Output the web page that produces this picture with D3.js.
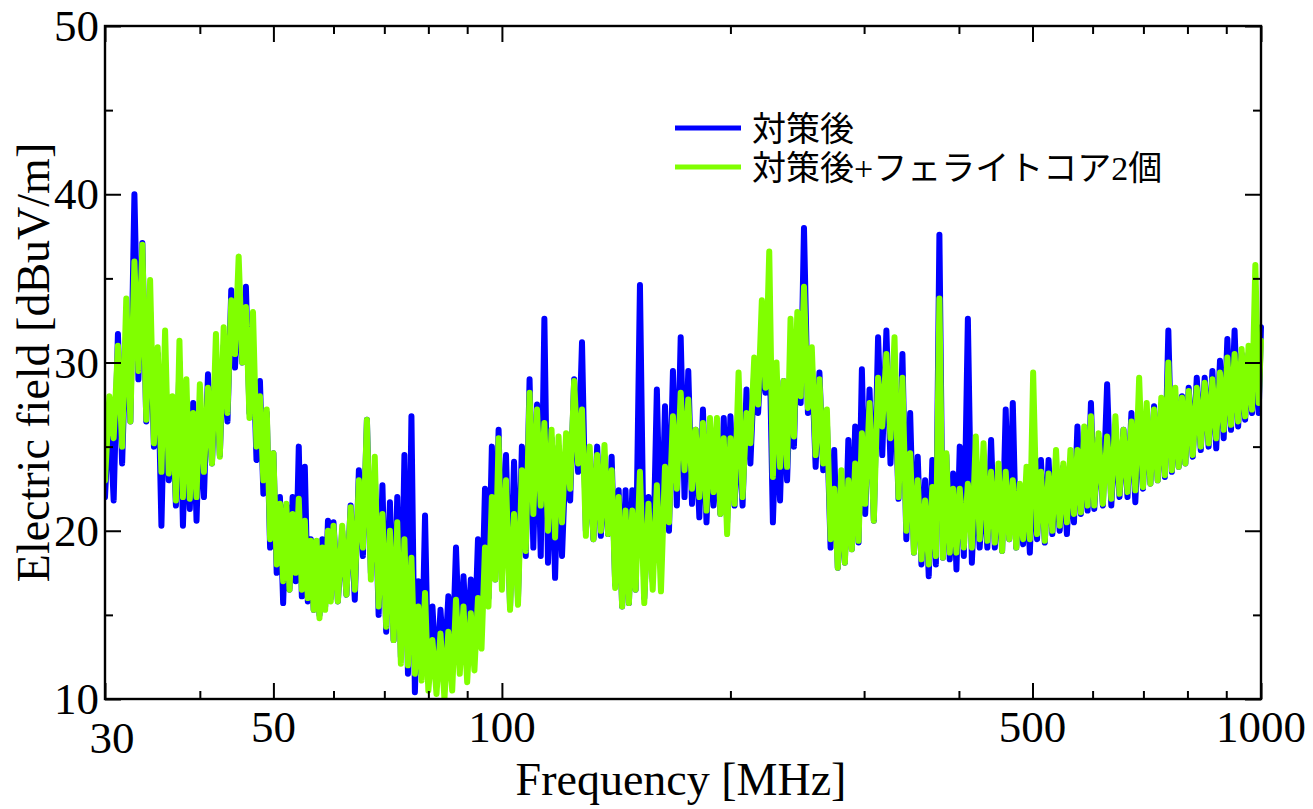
<!DOCTYPE html>
<html>
<head>
<meta charset="utf-8">
<script src="https://cdn.jsdelivr.net/npm/d3@7/dist/d3.min.js"></script>
<style>
  html, body { margin: 0; padding: 0; background: #fff; }
  svg { display: block; }
  text { font-family: "Liberation Serif", "Times New Roman", "Noto Sans CJK JP", serif; fill: #000; }
</style>
</head>
<body>
<svg id="chart" width="1313" height="809"></svg>
<script>
// ---------- DATA ----------
const freqMHz = [
  30,30.4,30.8,31.2,31.6,32,32.4,32.8,33.2,33.6,34,34.4,34.8,35.2,35.6,36,36.4,36.8,37.2,37.6,38,38.4,38.8,39.2,39.6,40,
  40.5,41,41.5,42,42.5,43,43.5,44,44.5,45,45.5,46,46.5,47,47.5,48,48.5,49,49.5,50,
  50.5,51,51.5,52,52.5,53,53.5,54,54.5,55,55.5,56,56.5,57,57.5,58,58.5,59,59.5,60,
  60.8,61.6,62.4,63.2,64,64.8,65.6,66.4,67.2,68,68.8,69.6,70.4,71.2,72,72.8,73.6,74.4,75.2,76,76.8,77.6,78.4,79.2,80,
  81,82,83,84,85,86,87,88,89,90,91,92,93,94,95,96,97,98,99,100,
  101.25,102.5,103.75,105,106.25,107.5,108.75,110,111.25,112.5,113.75,115,116.25,117.5,118.75,120,
  121.5,123,124.5,126,127.5,129,130.5,132,133.5,135,136.5,138,139.5,141,142.5,144,145.5,147,148.5,150,
  152,154,156,158,160,162,164,166,168,170,172,174,176,178,180,182,184,186,188,190,192,194,196,198,200,
  202.5,205,207.5,210,212.5,215,217.5,220,222.5,225,227.5,230,232.5,235,237.5,240,242.5,245,247.5,250,
  253,256,259,262,265,268,271,274,277,280,283,286,289,292,295,298,301,
  305,309,313,317,321,325,329,333,337,341,345,349,353,357,361,365,369,373,377,381,385,389,393,397,401,
  406,411,416,421,426,431,436,441,446,451,456,461,466,471,476,481,486,491,496,501,
  507,513,519,525,531,537,543,549,555,561,567,573,579,585,591,597,603,
  611,619,627,635,643,651,659,667,675,683,691,699,707,715,723,731,739,747,755,763,771,779,787,795,803,
  813,823,833,843,853,863,873,883,893,903,913,923,933,943,953,963,973,983,993,1000
];

// 対策後 (blue)
const afterDb = [
  22.0,27.5,21.8,31.7,24.0,32,26.5,40.0,29,37.1,26.5,33,25.0,30.5,20.3,30,23.0,27,21.5,30,20.3,27,21.3,27.6,20.6,27,
  22,29.3,24.0,30,24.5,31,26.5,34.3,29.7,34,30,34.5,27,31,24.2,28.9,22.2,27,19.0,24.6,
  17.5,22,15.7,21.5,16.5,22,17.0,25.0,16.1,23.8,15.8,19.5,15.3,19,15.0,19.5,15.5,20.6,16,20.5,
  15.8,20,16.2,21.5,15.9,23.6,18.5,26.6,17.5,23.5,15,22.7,14.0,21.7,13.5,22,12.5,24.5,11.5,26.8,10.4,17,11.5,20.9,11,
  15.5,11.0,15.3,11.7,16.1,12,19.0,12.5,17.3,13.0,17.1,13.0,19.5,14.5,22.5,16,25.0,17.1,26.0,17.5,
  24.5,15.5,24.1,16.0,25,18.5,29.0,19,27.5,18.5,32.6,18.1,25.5,17.2,25,18.5,
  25,21.8,29.0,23.5,31.2,20.0,24.5,19.5,25.0,19.7,24,19.8,24.4,16.8,22.4,15.5,22.4,15.7,22.4,16.5,
  34.6,16.0,22,17,28.4,18,27.4,20,29.5,21.5,31.5,22.0,29.5,21.6,26,20.8,27.2,20.5,26,21.5,25.5,21,26.7,20.5,26.8,
  21.5,26.5,21.5,28.4,24,29.5,27,31,28.2,32,20.5,27,21.8,28.9,23.0,29,25.0,32,27.6,38.0,
  27,30,23.8,29.4,23.6,26.5,19.0,24.8,17.8,22.5,18.1,25.4,18.9,26.2,19.3,29.6,21.0,
  28.4,20.6,31.5,24.5,31.9,24.0,29.5,21.9,30.5,19.5,27.0,18.7,24.4,18.0,23,17.3,24.2,18.0,37.6,18.4,24.5,18.3,23.4,17.7,25.0,
  18.5,32.6,18.1,23.5,19.0,23,19.0,25.4,19,23,18.8,27.2,19.5,27.6,19.0,22.5,19.2,23,18.7,24,
  19.5,24.2,19.3,24.2,19.8,23.5,20.0,23.8,19.8,24,20.5,26.2,21.0,25.2,21.2,27.6,21.3,
  25.5,21.5,28.7,21.5,26,22.0,26.0,22.0,27.0,21.7,27,22.5,27,22.8,27.4,23.0,27.5,23.2,31.9,23.5,28,23.8,28,24.0,28.5,
  24.4,29.1,24.8,29.1,25.0,29.5,24.9,30.1,25.5,31.4,26.0,31.9,26.2,30.5,26.6,30.5,27.0,31,27.0,32.1
];

// 対策後+フェライトコア2個 (green)
const ferriteDb = [
  23.0,28.0,25.5,31.0,25.0,33.8,26.5,36.0,29.5,37.0,26.6,34.9,25.2,30.9,23.5,31.9,23.4,28.0,21.8,31.3,22.0,29.0,21.9,27.0,22,28.7,
  23.5,28.5,24.0,31.7,24.4,32.1,27.0,33.7,30.5,36.3,30,33.3,26.7,33.0,25.0,28,23.0,27.2,19.5,24.6,
  18.0,21.6,17.0,21.6,16.5,21.0,17.5,21.9,16.5,20.6,16.0,19.4,15.3,19.4,14.8,19.0,15.3,20.0,15.8,20.3,
  15.8,20.3,16.2,21.4,16.5,23.0,19,26.6,17.1,24.4,15.5,21,14.3,20,13.5,20.5,12.1,19.5,12.0,18.4,11.5,15.5,11.1,16.3,10.5,
  13.5,10.3,13.9,10.0,14,10.5,15.9,11.5,15.5,11.0,15.1,11.7,16.0,13.0,19.0,15.5,22.0,17.1,25.5,16.5,
  23.0,15.3,21.0,15.6,23.6,18.8,28.2,21.0,27.2,21.5,26.4,20.0,26.0,19.6,25.6,20.5,
  25.8,22.5,28.9,24.0,27.2,19.7,25.0,19.5,24.5,20.0,25.1,19.8,23.6,16.6,22.0,15.5,21.2,15.7,21.2,16.5,
  23.5,15.7,21.6,16.5,22.7,16.4,23.8,20.5,26.8,22.5,28.2,23.6,27.8,22.5,26.0,22.0,26.4,21.2,26.7,22.3,26.7,21.0,25.5,19.8,25.5,
  21.6,29.4,22.0,27.0,25.2,30.3,27.5,33.7,28.5,36.6,23.2,30,23.8,28.9,23.8,32.6,25.6,33.0,28.0,34.5,
  27.3,30.9,24.5,29.0,24.0,27.2,19.5,22.5,17.8,23.6,18.1,23.0,18.9,24.0,19.4,25.8,21.6,
  27.6,20.6,29.1,26.2,30.5,25.5,31.5,22.0,29.1,20.0,24.6,18.7,23.0,18.3,21.8,18.0,22.6,18.5,33.8,18.4,24.6,18.7,22.5,18.7,22.5,
  19.0,22.8,19.0,25.6,19.5,25.2,19.4,23.5,19.3,24.0,18.8,23.5,19.5,23.0,19.0,22.8,19.5,23.8,19.5,29.4,
  19.8,23.5,19.4,23.4,20.0,24.8,20.3,24.0,20.5,24.8,21.0,24.8,21.1,26.2,21.5,26.8,21.5,
  25.8,21.6,25.6,21.9,26.8,22.2,26.0,22.3,26.5,22.4,29.1,22.6,27.6,22.8,27.2,23.0,27.9,23.3,30.0,23.6,28.5,23.8,27.9,24.0,28.3,
  24.5,28.5,25.0,28.8,25.2,29.0,25.5,29.4,26.0,30.3,26.3,30.5,26.5,30.8,26.8,31.0,27.2,35.8,27.6,31.3
];

const seriesNames = ["対策後", "対策後+フェライトコア2個"];
const seriesColors = ["#0000ff", "#80ff00"];

const xMajorTicks = [30, 50, 100, 500, 1000];
const xMinorTicks = [40, 60, 70, 80, 90, 200, 300, 400, 600, 700, 800, 900];
const xTickLabels = ["30", "50", "100", "500", "1000"];
const yMajorTicks = [10, 20, 30, 40, 50];
const yMinorTicks = [15, 25, 35, 45];
const yTickLabels = ["10", "20", "30", "40", "50"];
const xTitle = "Frequency [MHz]";
const yTitle = "Electric field [dBuV/m]";

// ---------- LAYOUT ----------
const L = 105, R = 1261, T = 26, B = 699;
const svg = d3.select("#chart");
svg.append("rect").attr("width", 1313).attr("height", 809).attr("fill", "#fff");

const x = d3.scaleLog().domain([30, 1000]).range([L, R]);
const y = d3.scaleLinear().domain([10, 50]).range([B, T]);

const seriesData = [afterDb, ferriteDb].map(vals => freqMHz.map((f, i) => ({ f, v: vals[i] })));

const line = d3.line().x(d => x(d.f)).y(d => y(d.v));

svg.append("defs").append("clipPath").attr("id", "plotclip")
  .append("rect").attr("x", L).attr("y", T - 4).attr("width", R - L + 4).attr("height", B - T + 4);

const plot = svg.append("g").attr("clip-path", "url(#plotclip)");
seriesData.forEach((d, k) => {
  plot.append("path").datum(d)
    .attr("d", line)
    .attr("fill", "none")
    .attr("stroke", seriesColors[k])
    .attr("stroke-width", 6)
    .attr("stroke-linejoin", "round")
    .attr("stroke-linecap", "round");
});

// ---------- AXES (inward ticks on all four sides) ----------
function styleAxis(g) {
  g.select(".domain").remove();
  g.selectAll(".tick line").attr("stroke", "#000").attr("stroke-width", 2);
  g.selectAll(".tick text").remove();
}
const major = 16, minor = 8;
svg.append("g").attr("transform", `translate(0,${B})`)
  .call(d3.axisBottom(x).tickValues(xMajorTicks).tickSize(-major).tickFormat("")).call(styleAxis);
svg.append("g").attr("transform", `translate(0,${B})`)
  .call(d3.axisBottom(x).tickValues(xMinorTicks).tickSize(-minor).tickFormat("")).call(styleAxis);
svg.append("g").attr("transform", `translate(0,${T})`)
  .call(d3.axisTop(x).tickValues(xMajorTicks).tickSize(-major).tickFormat("")).call(styleAxis);
svg.append("g").attr("transform", `translate(0,${T})`)
  .call(d3.axisTop(x).tickValues(xMinorTicks).tickSize(-minor).tickFormat("")).call(styleAxis);
svg.append("g").attr("transform", `translate(${L},0)`)
  .call(d3.axisLeft(y).tickValues(yMajorTicks).tickSize(-major).tickFormat("")).call(styleAxis);
svg.append("g").attr("transform", `translate(${L},0)`)
  .call(d3.axisLeft(y).tickValues(yMinorTicks).tickSize(-minor).tickFormat("")).call(styleAxis);
svg.append("g").attr("transform", `translate(${R},0)`)
  .call(d3.axisRight(y).tickValues(yMajorTicks).tickSize(-major).tickFormat("")).call(styleAxis);
svg.append("g").attr("transform", `translate(${R},0)`)
  .call(d3.axisRight(y).tickValues(yMinorTicks).tickSize(-minor).tickFormat("")).call(styleAxis);

svg.append("rect").attr("x", L).attr("y", T).attr("width", R - L).attr("height", B - T)
  .attr("fill", "none").attr("stroke", "#000").attr("stroke-width", 2.4);

// tick labels
svg.append("g").selectAll("text").data(xMajorTicks).join("text")
  .attr("x", (d, i) => x(d) + (i === 0 ? 7 : 0))
  .attr("y", (d, i) => i === 0 ? 753 : 742)
  .attr("text-anchor", "middle")
  .attr("font-size", 45)
  .text((d, i) => xTickLabels[i]);

svg.append("g").selectAll("text").data(yMajorTicks).join("text")
  .attr("x", L - 6)
  .attr("y", d => y(d) + 15)
  .attr("text-anchor", "end")
  .attr("font-size", 45)
  .text((d, i) => yTickLabels[i]);

// axis titles
svg.append("text").attr("x", (L + R) / 2 - 2).attr("y", 795)
  .attr("text-anchor", "middle").attr("font-size", 46).text(xTitle);
svg.append("text").attr("transform", `translate(49,${(T + B) / 2}) rotate(-90)`)
  .attr("text-anchor", "middle").attr("font-size", 46).text(yTitle);

// legend (Latin characters forced to the serif face, CJK to the CJK face)
const legY = [128, 167];
const leg = svg.append("g");
seriesNames.forEach((name, k) => {
  leg.append("line").attr("x1", 675).attr("x2", 741).attr("y1", legY[k]).attr("y2", legY[k])
    .attr("stroke", seriesColors[k]).attr("stroke-width", 5);
  const t = leg.append("text").attr("x", 752).attr("y", legY[k] + 13).attr("font-size", 34);
  const runs = name.match(/[\x00-\x7F]+|[^\x00-\x7F]+/g);
  runs.forEach(r => {
    const ascii = /^[\x00-\x7F]+$/.test(r);
    t.append("tspan")
      .style("font-family", ascii ? "'Liberation Serif', serif" : "'Noto Sans CJK JP', sans-serif")
      .text(r);
  });
});
</script>
</body>
</html>
